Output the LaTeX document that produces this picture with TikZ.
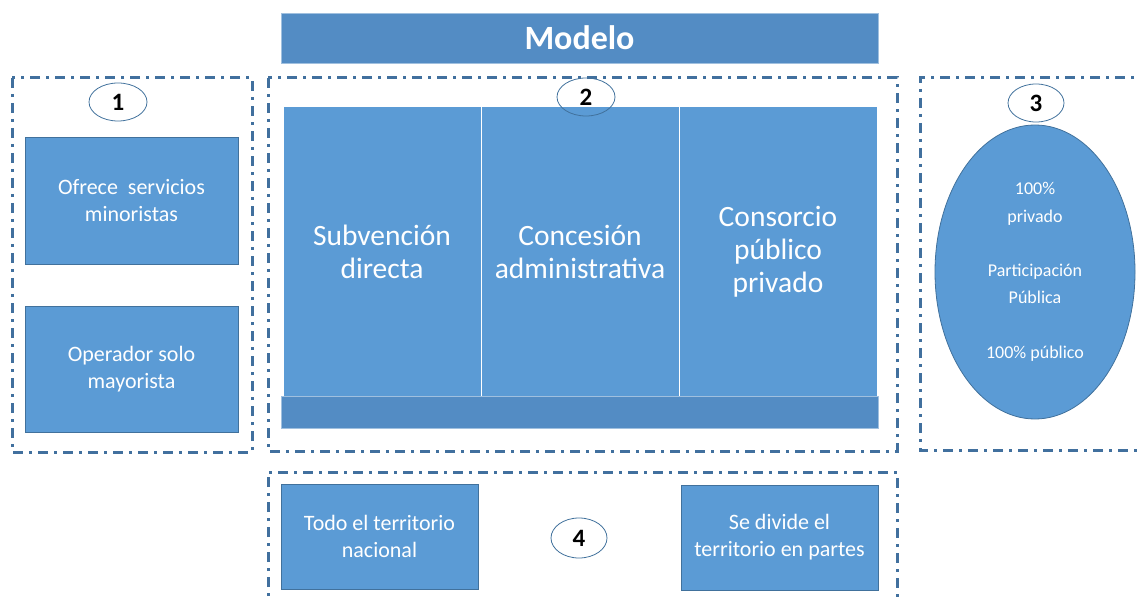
\documentclass[tikz,border=0pt]{standalone}
\usepackage{fontspec}
\setmainfont{Carlito}
\usetikzlibrary{shapes.geometric}

\definecolor{boxblue}{HTML}{5B9BD5}
\definecolor{barblue}{HTML}{538CC4}
\definecolor{edgeblue}{HTML}{41719C}
\definecolor{framecol}{HTML}{41709E}

\begin{document}
\begin{tikzpicture}
        [x=1pt,y=-1pt,
         box/.style={draw=edgeblue,line width=0.8pt,fill=boxblue,text=white,align=center,
           inner sep=0pt,font=\fontsize{22}{27}\selectfont},
         column/.style={draw=white,line width=1pt,fill=boxblue,text=white,align=center,
           minimum width=198,minimum height=289,inner sep=0pt,font=\fontsize{29.5}{33}\selectfont},
         bar/.style={draw=barblue!55!white,line width=0.6pt,fill=barblue,inner sep=0pt},
         frame/.style={draw=framecol,line width=3pt,dash pattern=on 10pt off 6pt on 3pt off 6pt},
         numero/.style={ellipse,draw=edgeblue,line width=0.8pt,inner sep=0pt,
           font=\fontsize{25}{28}\selectfont\bfseries}]
        \useasboundingbox (0,0) rectangle (1139,601);
        \clip (0,0) rectangle (1139,601);

        % title
        \node (modelo) [bar,minimum width=597,minimum height=50,text=white,
          font=\fontsize{34}{40}\selectfont\bfseries] at (579.5,38) {Modelo};

        % dash-dot frames
        \draw[frame] (12,78) rectangle (252,452);
        \draw[frame] (268,78) rectangle (897,451);
        \draw[frame] (1150,78) -- (920,78) -- (920,450) -- (1150,450);
        \draw[frame] (268,612) -- (268,472) -- (897,472) -- (897,612);

        % 1
        \node (ofrece) [box,minimum width=213,minimum height=127] at (131.5,200.5)
          {Ofrece\ \ servicios\\minoristas};
        \node (operador) [box,minimum width=213,minimum height=126] at (131.5,369)
          {Operador solo\\mayorista};

        % 2
        \node (subvencion) [column] at (382,251.5) {Subvención\\directa};
        \node (concesion) [column] at (580,251.5) {Concesión\\administrativa};
        \node (consorcio) [column] at (778,251.5) {Consorcio\\público\\privado};
        \node (base) [bar,minimum width=597,minimum height=32] at (579.5,412) {};

        % 3
        \node (participacion) [ellipse,draw=edgeblue,line width=0.8pt,fill=boxblue,text=white,
          align=center,minimum width=200,minimum height=294,inner sep=0pt,
          font=\fontsize{18}{27.3}\selectfont] at (1035,272)
          {100\%\\privado\\[27.3pt]Participación\\Pública\\[27.3pt]100\% público};

        % 4
        \node (todo) [box,minimum width=197,minimum height=105] at (379.5,536.5)
          {Todo el territorio\\nacional};
        \node (divide) [box,minimum width=197,minimum height=105] at (779.5,537.5)
          {Se divide el\\territorio en partes};

        \node (n1) [numero,minimum width=58,minimum height=38] at (118,102) {1};
        \node (n2) [numero,minimum width=58,minimum height=38] at (586,97) {2};
        \node (n3) [numero,minimum width=56,minimum height=38] at (1036,103) {3};
        \node (n4) [numero,minimum width=56,minimum height=40] at (579,538) {4};
      \end{tikzpicture}
\end{document}
